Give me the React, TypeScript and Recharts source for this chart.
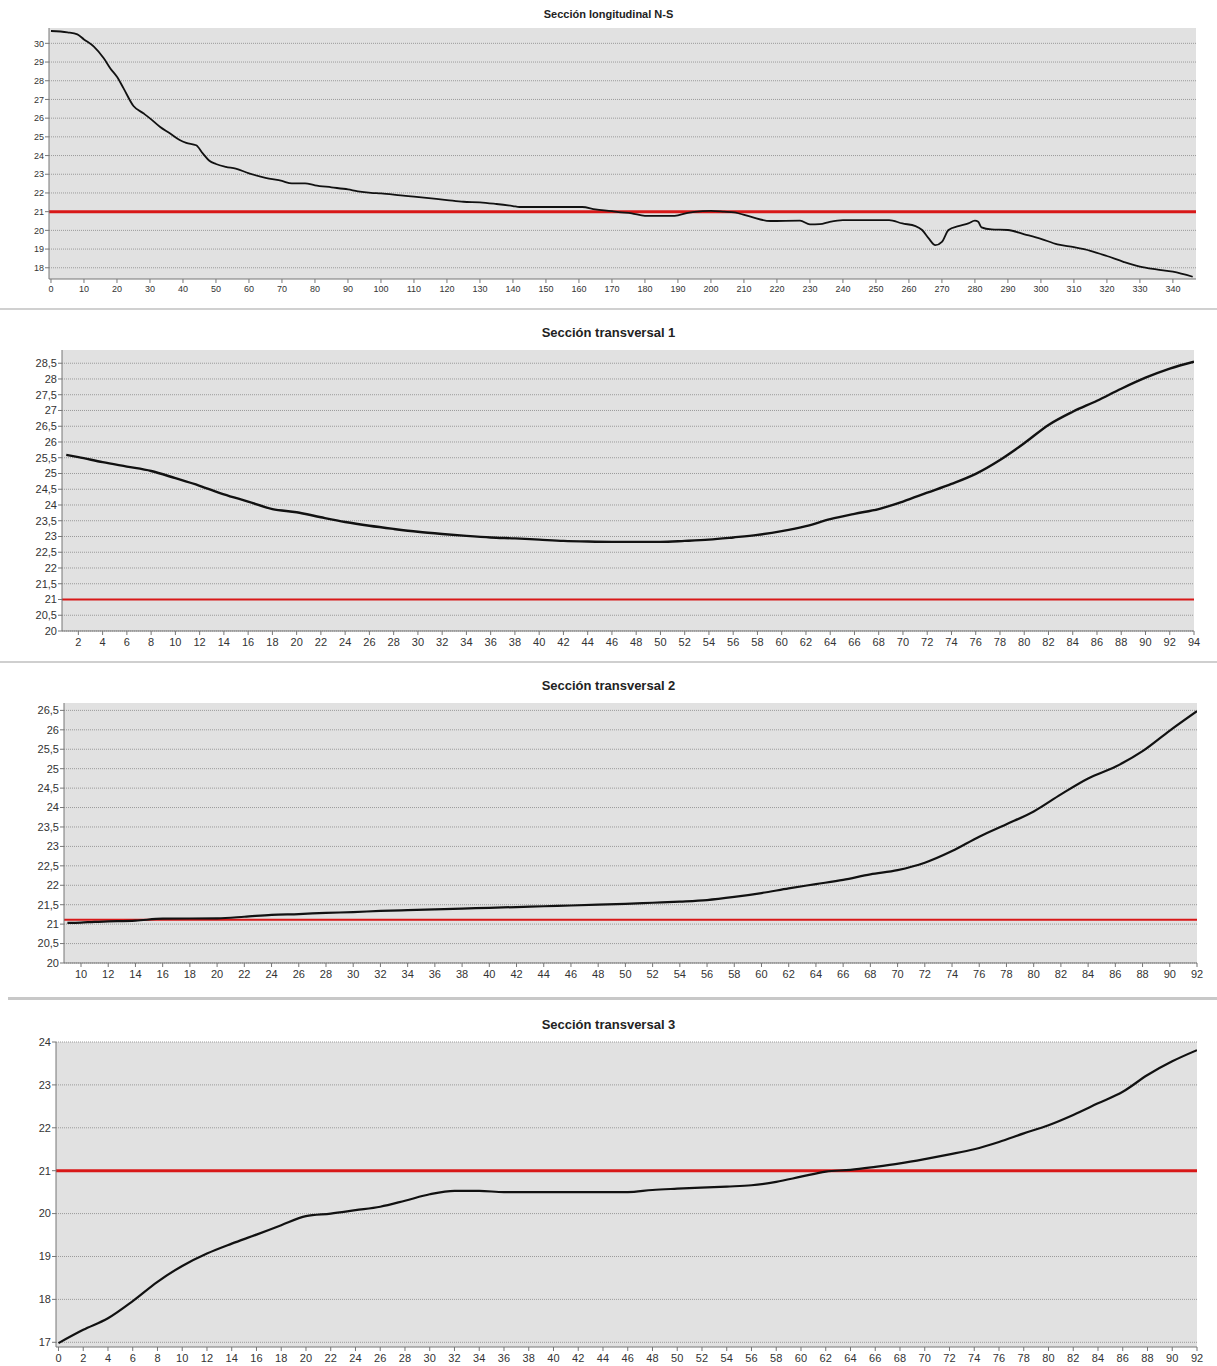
import { LineChart, Line, XAxis, YAxis, CartesianGrid, ReferenceLine, ReferenceArea } from 'recharts';

// Sección longitudinal N-S
const nsX = [0, 5, 8, 10, 13, 16, 18, 20, 22, 25, 28, 30, 33, 36, 39, 41, 44, 46, 48, 50, 53, 56, 60, 65, 70, 73, 77, 80, 85, 90, 93, 97, 100, 106, 110, 120, 125, 130, 135, 140, 142, 161, 165, 170, 172, 176, 180, 189, 193, 195, 200, 204, 207, 212, 218, 227, 230, 233, 236, 240, 254, 258, 262, 264, 266, 268, 270, 272, 275, 278, 280, 281, 282, 285, 290, 295, 300, 305, 310, 315, 320, 325, 330, 335, 340, 346];
const nsY = [30.66, 30.59, 30.48, 30.21, 29.82, 29.2, 28.66, 28.21, 27.59, 26.65, 26.26, 25.99, 25.54, 25.19, 24.83, 24.68, 24.55, 24.12, 23.72, 23.55, 23.4, 23.3, 23.05, 22.81, 22.64, 22.51, 22.51, 22.41, 22.3, 22.19, 22.09, 22.01, 21.98, 21.87, 21.8, 21.62, 21.53, 21.5, 21.41, 21.3, 21.25, 21.25, 21.12, 21.03, 20.98, 20.91, 20.78, 20.78, 20.94, 20.99, 21.04, 21.0, 20.96, 20.73, 20.5, 20.52, 20.32, 20.33, 20.46, 20.55, 20.55, 20.37, 20.23, 20.02, 19.57, 19.21, 19.39, 20.02, 20.23, 20.37, 20.52, 20.46, 20.16, 20.05, 20.02, 19.79, 19.55, 19.25, 19.1, 18.91, 18.63, 18.32, 18.06, 17.91, 17.79, 17.52];
const nsXTicks = [0, 10, 20, 30, 40, 50, 60, 70, 80, 90, 100, 110, 120, 130, 140, 150, 160, 170, 180, 190, 200, 210, 220, 230, 240, 250, 260, 270, 280, 290, 300, 310, 320, 330, 340];
const nsYTicks = [18, 19, 20, 21, 22, 23, 24, 25, 26, 27, 28, 29, 30];

// Sección transversal 1
const t1X = [1, 2, 4, 6, 8, 10, 12, 14, 16, 18, 20, 22, 24, 26, 28, 30, 32, 34, 36, 38, 40, 42, 44, 46, 48, 50, 52, 54, 56, 58, 60, 62, 64, 66, 68, 70, 72, 74, 76, 78, 80, 82, 84, 86, 88, 90, 92, 94];
const t1Y = [25.59, 25.52, 25.36, 25.22, 25.08, 24.85, 24.61, 24.34, 24.11, 23.87, 23.77, 23.61, 23.46, 23.34, 23.24, 23.15, 23.08, 23.02, 22.97, 22.94, 22.9, 22.86, 22.84, 22.83, 22.83, 22.83, 22.86, 22.9, 22.97, 23.05, 23.17, 23.33, 23.55, 23.72, 23.87, 24.11, 24.39, 24.67, 24.99, 25.43, 25.96, 26.54, 26.96, 27.31, 27.69, 28.04, 28.33, 28.55];
const t1XTicks = [2, 4, 6, 8, 10, 12, 14, 16, 18, 20, 22, 24, 26, 28, 30, 32, 34, 36, 38, 40, 42, 44, 46, 48, 50, 52, 54, 56, 58, 60, 62, 64, 66, 68, 70, 72, 74, 76, 78, 80, 82, 84, 86, 88, 90, 92, 94];
const t1YTicks = [20, 20.5, 21, 21.5, 22, 22.5, 23, 23.5, 24, 24.5, 25, 25.5, 26, 26.5, 27, 27.5, 28, 28.5];

// Sección transversal 2
const t2X = [9, 10, 11, 12, 14, 16, 20, 22, 24, 26, 28, 30, 32, 34, 36, 38, 40, 42, 44, 46, 48, 50, 52, 54, 56, 58, 60, 62, 64, 66, 68, 70, 72, 74, 76, 78, 80, 82, 84, 86, 88, 90, 92];
const t2Y = [21.03, 21.04, 21.06, 21.07, 21.09, 21.14, 21.15, 21.19, 21.24, 21.26, 21.29, 21.31, 21.34, 21.36, 21.38, 21.4, 21.42, 21.44, 21.46, 21.48, 21.5, 21.52, 21.55, 21.58, 21.62, 21.7, 21.8, 21.92, 22.03, 22.14, 22.28, 22.39, 22.58, 22.88, 23.25, 23.57, 23.9, 24.34, 24.75, 25.05, 25.45, 25.98, 26.48];
const t2XTicks = [10, 12, 14, 16, 18, 20, 22, 24, 26, 28, 30, 32, 34, 36, 38, 40, 42, 44, 46, 48, 50, 52, 54, 56, 58, 60, 62, 64, 66, 68, 70, 72, 74, 76, 78, 80, 82, 84, 86, 88, 90, 92];
const t2YTicks = [20, 20.5, 21, 21.5, 22, 22.5, 23, 23.5, 24, 24.5, 25, 25.5, 26, 26.5];

// Sección transversal 3
const t3X = [0, 2, 4, 6, 8, 10, 12, 14, 16, 18, 20, 22, 24, 26, 28, 30, 32, 34, 36, 40, 46, 48, 50, 54, 56, 58, 60, 62, 64, 66, 68, 70, 72, 74, 76, 78, 80, 82, 84, 86, 88, 90, 92];
const t3Y = [16.98, 17.29, 17.56, 17.96, 18.41, 18.78, 19.07, 19.3, 19.51, 19.73, 19.94, 20.0, 20.08, 20.16, 20.3, 20.45, 20.53, 20.53, 20.5, 20.5, 20.5, 20.55, 20.58, 20.63, 20.66, 20.74, 20.86, 20.98, 21.02, 21.09, 21.17, 21.27, 21.38, 21.5, 21.67, 21.87, 22.06, 22.3, 22.57, 22.84, 23.23, 23.55, 23.81];
const t3XTicks = [0, 2, 4, 6, 8, 10, 12, 14, 16, 18, 20, 22, 24, 26, 28, 30, 32, 34, 36, 38, 40, 42, 44, 46, 48, 50, 52, 54, 56, 58, 60, 62, 64, 66, 68, 70, 72, 74, 76, 78, 80, 82, 84, 86, 88, 90, 92];
const t3YTicks = [17, 18, 19, 20, 21, 22, 23, 24];

const zip = (xs: number[], ys: number[]) => xs.map((x, i) => ({ x, y: ys[i] }));
const comma = (v: number) => String(v).replace('.', ',');

const FONT = '"Liberation Sans", Arial, sans-serif';

type PanelProps = {
    title: string;
    titleTop: number;
    titleSize: number;
    top: number;
    height: number;
    marginTop: number;
    marginRight: number;
    yWidth: number;
    xHeight: number;
    xDomain: [number, number];
    yDomain: [number, number];
    xTicks: number[];
    yTicks: number[];
    data: { x: number; y: number }[];
    refY: number;
    fontSize: number;
    lineWidth: number;
    refWidth: number;
};

const Panel = (p: PanelProps) => (
    <>
        <div style={{ position: 'absolute', left: 0, width: 1217, top: p.titleTop, textAlign: 'center', fontFamily: FONT, fontWeight: 'bold', fontSize: p.titleSize, color: '#222', lineHeight: '16px' }}>
            {p.title}
        </div>
        <div style={{ position: 'absolute', left: 0, top: p.top }}>
            <LineChart width={1217} height={p.height} data={p.data} margin={{ top: p.marginTop, right: p.marginRight, left: 0, bottom: 0 }}>
                <CartesianGrid vertical={false} fill="#e1e1e1" stroke="#9a9a9a" strokeDasharray="1 1" horizontalValues={p.yTicks} />
                <XAxis dataKey="x" type="number" domain={p.xDomain} ticks={p.xTicks} allowDataOverflow interval={0} height={p.xHeight}
                    tick={{ fill: '#333', fontSize: p.fontSize, fontFamily: FONT }} tickSize={4} tickMargin={3} stroke="#777" />
                <YAxis type="number" domain={p.yDomain} ticks={p.yTicks} allowDataOverflow interval={0} width={p.yWidth} tickFormatter={comma}
                    tick={{ fill: '#333', fontSize: p.fontSize, fontFamily: FONT }} tickSize={4} tickMargin={1} stroke="#777" />
                <ReferenceArea fill="none" fillOpacity={0} stroke="#999" strokeWidth={1.5} ifOverflow="hidden" />
                <ReferenceLine y={p.refY} stroke="#d81818" strokeWidth={p.refWidth} />
                <Line type="monotone" dataKey="y" stroke="#111" strokeWidth={p.lineWidth} dot={false} isAnimationActive={false} />
            </LineChart>
        </div>
    </>
);

export default function App() {
    return (
        <div style={{ position: 'absolute', left: 0, top: 0, width: 1217, height: 1366, background: '#fff', overflow: 'hidden' }}>
            <Panel title="Sección longitudinal N-S" titleTop={6} titleSize={11} top={0} height={300} marginTop={28} marginRight={21}
                yWidth={49} xHeight={21} xDomain={[-0.6, 347]} yDomain={[17.4, 30.82]} xTicks={nsXTicks} yTicks={nsYTicks}
                data={zip(nsX, nsY)} refY={21} fontSize={9} lineWidth={1.8} refWidth={3} />
            <div style={{ position: 'absolute', left: 0, top: 308, width: 1217, height: 2, background: '#d0d0d0' }} />
            <Panel title="Sección transversal 1" titleTop={325} titleSize={13} top={310} height={350} marginTop={40} marginRight={23}
                yWidth={62} xHeight={29} xDomain={[0.65, 94]} yDomain={[20, 28.92]} xTicks={t1XTicks} yTicks={t1YTicks}
                data={zip(t1X, t1Y)} refY={21} fontSize={11} lineWidth={2.4} refWidth={2} />
            <div style={{ position: 'absolute', left: 0, top: 661, width: 1217, height: 2, background: '#cfcfcf' }} />
            <Panel title="Sección transversal 2" titleTop={678} titleSize={13} top={663} height={332} marginTop={40} marginRight={20}
                yWidth={64} xHeight={32} xDomain={[8.75, 92]} yDomain={[20, 26.69]} xTicks={t2XTicks} yTicks={t2YTicks}
                data={zip(t2X, t2Y)} refY={21.11} fontSize={11} lineWidth={2.2} refWidth={2} />
            <div style={{ position: 'absolute', left: 8, top: 997, width: 1209, height: 3, background: '#c8c8c8' }} />
            <Panel title="Sección transversal 3" titleTop={1017} titleSize={13} top={1000} height={366} marginTop={42} marginRight={20}
                yWidth={56} xHeight={19} xDomain={[-0.2, 92]} yDomain={[16.89, 24]} xTicks={t3XTicks} yTicks={t3YTicks}
                data={zip(t3X, t3Y)} refY={21} fontSize={11} lineWidth={2.2} refWidth={3} />
        </div>
    );
}
